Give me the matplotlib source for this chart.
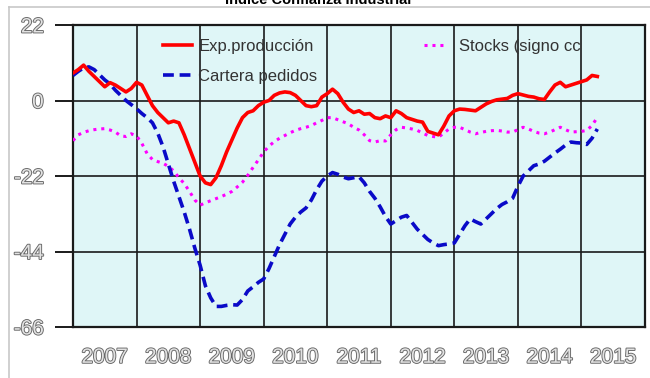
import numpy as np
import matplotlib
matplotlib.use("Agg")
import matplotlib.pyplot as plt
import matplotlib.patheffects as pe
from matplotlib.lines import Line2D

plt.rcParams['font.family'] = ['Liberation Sans', 'DejaVu Sans']

# monthly series, Jan 2007 .. Apr 2015
start_year = 2007
exp_produccion = [
    8, 9, 10.3, 8.5, 7, 5.5, 4, 5.2, 4.5, 3.5, 2.5, 3.5,
    5.3, 4.5, 1.5, -1.5, -3.5, -5, -6.5, -6, -6.5, -10, -14, -18,
    -22, -24, -24.5, -22.5, -19, -15, -11.5, -8, -5, -3.5, -3, -1.5,
    -0.5, 0, 1.5, 2.2, 2.5, 2.3, 1.5, 0, -1.5, -1.8, -1.5, 1,
    2, 3.3, 2, -0.5, -2.5, -3.5, -3, -4, -3.8, -5, -5.3, -4.5,
    -5, -3, -3.8, -5, -5.5, -6, -6.3, -9, -9.5, -10, -7.5, -4.5,
    -3, -2.5, -2.6, -2.8, -3, -2, -1, -0.3, 0.2, 0.4, 0.6, 1.5,
    2, 1.6, 1.2, 1, 0.5, 0.3, 2.5, 4.5, 5.3, 4, 4.5, 5,
    5.5, 6, 7.3, 7,
]
cartera_pedidos = [
    7.3, 8.5, 9.5, 9.8, 9, 7.5, 6, 4.8, 3, 1.5, 0, -1.2,
    -2.4, -3.8, -5, -6.5, -9.5, -13.5, -18.5, -23.5, -28, -32.5, -37.5, -43,
    -48, -54, -57.5, -60, -60, -59.7, -59.5, -59.6, -58, -55.5, -54.3, -53,
    -52, -49, -45.5, -42, -39, -36, -34, -32.5, -31.3, -29, -26, -23.5,
    -22, -21, -21.5, -22.3, -22.8, -22.5, -22.2, -24, -26.5, -28.5, -31, -33.8,
    -36, -35, -34, -33.5, -35.5, -37.5, -39, -40.5, -41.5, -42.3, -42, -41.8,
    -41.5, -39, -36.5, -34.5, -35.3, -36, -34.5, -33, -31.5, -30.3, -29.5, -28.5,
    -25, -22, -20.5, -19, -18.5, -17.7, -16.5, -15.3, -14.2, -13, -12.1, -12.3,
    -12.4, -12.8, -11, -8.3,
]
stocks = [
    -11.7, -10, -9.3, -8.8, -8.5, -8.3, -8.2, -8.6, -9.2, -10.3, -10.5, -9.7,
    -10.3, -12.5, -15.5, -17.2, -17.8, -18.3, -19.2, -20.5, -22.5, -24.2, -26.5, -29,
    -30.5, -29.8, -29.2, -28.6, -28, -27.3, -26.5, -25.2, -23.8, -21.8, -19.5, -17.3,
    -15, -13.3, -12, -11, -10.2, -9.4, -8.7, -8.2, -7.8, -7.3, -6.5, -5.8,
    -5, -5, -5.6, -6.2, -6.8, -7.8, -8.6, -10, -11.7, -12.1, -11.7, -11.8,
    -10, -8.5, -7.8, -8, -8.3, -8.7, -9.5, -10.2, -10.5, -10.7, -9.5, -8.3,
    -7.8, -7.8, -8.5, -9.2, -9.7, -9.3, -9, -8.8, -8.7, -8.9, -9.2, -9.2,
    -8.5, -7.8, -8.3, -9, -9.5, -9.7, -9.2, -8.5, -7.8, -8.5, -9.2, -9.1,
    -9, -8.7, -7.3, -4.9,
]
years = list(range(2007, 2016))
y_ticks = [22, 0, -22, -44, -66]
title = 'Índice Confianza Industrial'

t = start_year + np.arange(len(exp_produccion)) / 12.0

fig = plt.figure(figsize=(6.5, 3.78), dpi=100)
W, H = 650, 378

# light gray frame around the chart
fig.add_artist(Line2D([9 / W, 9 / W], [0, 1 - 7 / H], color='#c8c8c8', lw=1.2))
fig.add_artist(Line2D([9 / W, 1], [1 - 7 / H, 1 - 7 / H], color='#c8c8c8', lw=1.2))
fig.text(318 / W, 1 - 4 / H, title, ha='center', va='baseline',
         fontsize=10.5, fontweight='bold', color='black')

ax = fig.add_axes([73 / W, 51 / H, 572 / W, 302 / H])
ax.set_facecolor('#dff6f7')

ax.plot(t, stocks, color='#ff00ff', lw=2.2, linestyle=(0, (1, 1.6)),
        zorder=3, label='Stocks (signo cc')
blue, = ax.plot(t, cartera_pedidos, color='#0a0ac8', lw=2.6, zorder=4,
                label='Cartera pedidos')
blue.set_dashes([3, 1.6])
ax.plot(t, exp_produccion, color='#ff0000', lw=2.6, zorder=5,
        label='Exp.producción')

ax.set_xlim(2007, 2016)
ax.set_ylim(-66, 22)
ax.set_xticks(years + [2016])
ax.set_xticks([y + 0.5 for y in years], minor=True)
ax.set_xticklabels([])
ax.set_xticklabels([str(y) for y in years], minor=True)
ax.tick_params(axis='x', which='both', length=0)
ax.tick_params(axis='x', which='minor', pad=15)
ax.set_yticks(y_ticks)
ax.set_yticklabels([str(v) for v in y_ticks])
ax.tick_params(axis='y', length=13, width=1.4, color='#1a1a1a', pad=8)
ax.grid(True, color='#1a1a1a', lw=1.2)

outline = [pe.withStroke(linewidth=1.3, foreground='#666666')]
for lab in ax.get_yticklabels() + ax.get_xticklabels(minor=True):
    lab.set_fontsize(15)
    lab.set_color('#e2e2e2')
    lab.set_path_effects(outline)

for s in ax.spines.values():
    s.set_color('#1a1a1a')
    s.set_linewidth(1.6)

h, l = ax.get_legend_handles_labels()
leg1 = ax.legend([h[2], h[1]], [l[2], l[1]], loc='upper left',
                 bbox_to_anchor=(0.158, 0.955), frameon=False, fontsize=12,
                 handlelength=1.7, handletextpad=0.4, labelspacing=0.9,
                 borderpad=0, borderaxespad=0)
for txt in leg1.get_texts():
    txt.set_color('#333333')
ax.add_artist(leg1)
leg2 = ax.legend([h[0]], [l[0]], loc='upper left',
                 bbox_to_anchor=(0.613, 0.955), frameon=False, fontsize=12,
                 handlelength=1.15, handletextpad=0.95, borderpad=0,
                 borderaxespad=0)
for txt in leg2.get_texts():
    txt.set_color('#333333')

fig.savefig('out.png', dpi=100)
